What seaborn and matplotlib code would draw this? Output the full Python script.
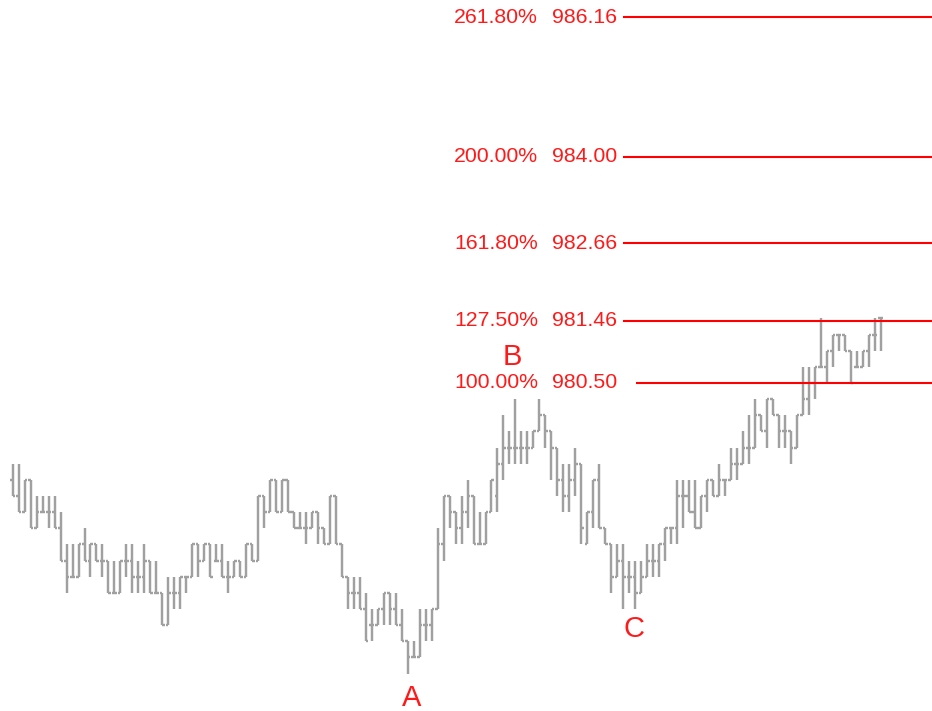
import matplotlib
matplotlib.use("Agg")
import matplotlib.pyplot as plt
import matplotlib.transforms as mtransforms
import pandas as pd
import seaborn as sns

# ---------------- data (ES futures bars, price in points) ----------------
opens = [
    979.00, 978.75, 978.50, 979.00, 978.25, 978.50, 978.50, 978.50, 978.25, 977.75,
    977.50, 977.50, 978.00, 977.75, 978.00, 977.75, 977.75, 977.25, 977.25, 977.75,
    977.75, 977.50, 977.50, 977.75, 977.25, 977.25, 976.75, 977.25, 977.25, 977.50,
    977.50, 978.00, 977.75, 978.00, 977.75, 977.75, 977.50, 977.50, 977.75, 977.50,
    978.00, 977.75, 978.75, 978.50, 979.00, 978.50, 979.00, 978.50, 978.25, 978.25,
    978.25, 978.50, 978.25, 978.00, 978.75, 978.00, 977.50, 977.25, 977.25, 977.00,
    976.75, 976.75, 977.00, 977.25, 977.00, 976.75, 976.50, 976.25, 976.25, 976.75,
    976.75, 977.00, 978.00, 978.75, 978.50, 978.25, 978.50, 978.75, 978.00, 978.00,
    978.50, 978.75, 979.25, 979.50, 979.50, 979.50, 979.50, 979.50, 979.75, 980.00,
    979.75, 979.50, 979.00, 978.75, 979.00, 979.25, 978.00, 978.50, 979.00, 978.25,
    978.00, 977.50, 977.75, 977.50, 977.50, 977.25, 977.50, 977.75, 977.75, 978.00,
    978.25, 978.25, 978.75, 978.75, 978.50, 978.25, 978.75, 979.00, 978.75, 979.00,
    979.00, 979.25, 979.25, 979.50, 979.50, 980.00, 979.75, 980.25, 980.00, 979.75,
    979.75, 979.50, 980.00, 980.25, 980.50, 980.75, 980.75, 981.00, 981.25, 981.25,
    981.00, 980.75, 980.75, 981.00, 981.25, 981.50,
]
highs = [
    979.25, 979.25, 979.00, 979.00, 978.75, 978.75, 978.75, 978.75, 978.50, 978.00,
    978.00, 978.00, 978.25, 978.00, 978.00, 978.00, 977.75, 977.75, 977.75, 978.00,
    978.00, 977.75, 978.00, 977.75, 977.75, 977.25, 977.50, 977.50, 977.50, 977.50,
    978.00, 978.00, 978.00, 978.00, 978.00, 978.00, 977.75, 977.75, 977.75, 978.00,
    978.00, 978.75, 978.75, 979.00, 979.00, 979.00, 979.00, 978.50, 978.50, 978.50,
    978.50, 978.50, 978.25, 978.75, 978.75, 978.00, 977.50, 977.50, 977.50, 977.25,
    977.00, 977.00, 977.25, 977.25, 977.25, 977.00, 976.50, 976.50, 977.00, 977.00,
    977.00, 978.25, 978.75, 978.75, 978.50, 978.75, 979.00, 978.75, 978.50, 978.50,
    979.00, 979.50, 980.00, 979.75, 980.25, 979.75, 979.75, 979.75, 980.25, 980.00,
    979.75, 979.50, 979.25, 979.25, 979.50, 979.25, 978.50, 979.00, 979.25, 978.25,
    978.00, 978.00, 978.00, 977.75, 977.75, 977.75, 978.00, 978.00, 978.00, 978.25,
    978.25, 979.00, 979.00, 979.00, 979.00, 978.75, 979.00, 979.00, 979.25, 979.00,
    979.50, 979.50, 979.75, 980.00, 980.25, 980.00, 980.25, 980.25, 980.00, 980.00,
    979.75, 980.00, 980.75, 980.75, 980.75, 981.50, 981.00, 981.25, 981.25, 981.25,
    981.00, 981.00, 981.00, 981.25, 981.50, 981.50,
]
lows = [
    978.75, 978.50, 978.50, 978.25, 978.25, 978.50, 978.25, 978.25, 977.75, 977.25,
    977.50, 977.50, 977.75, 977.50, 977.75, 977.50, 977.25, 977.25, 977.25, 977.50,
    977.25, 977.25, 977.25, 977.25, 977.25, 976.75, 976.75, 977.00, 977.00, 977.25,
    977.50, 977.50, 977.75, 977.50, 977.75, 977.50, 977.25, 977.50, 977.50, 977.50,
    977.75, 977.75, 978.25, 978.50, 978.50, 978.50, 978.50, 978.25, 978.25, 978.00,
    978.25, 978.00, 978.00, 978.00, 978.00, 977.50, 977.00, 977.00, 977.00, 976.50,
    976.50, 976.75, 976.75, 976.75, 976.75, 976.50, 976.00, 976.25, 976.25, 976.50,
    976.50, 977.00, 977.75, 978.25, 978.00, 978.00, 978.25, 978.00, 978.00, 978.00,
    978.50, 978.50, 979.00, 979.25, 979.25, 979.25, 979.25, 979.50, 979.75, 979.50,
    979.00, 978.75, 978.50, 978.50, 978.75, 978.00, 978.00, 978.25, 978.25, 978.00,
    977.25, 977.50, 977.00, 977.25, 977.00, 977.25, 977.50, 977.50, 977.50, 977.75,
    978.00, 978.00, 978.25, 978.50, 978.25, 978.25, 978.50, 978.75, 978.75, 978.75,
    979.00, 979.00, 979.25, 979.25, 979.50, 979.75, 979.50, 980.00, 979.50, 979.50,
    979.25, 979.50, 980.00, 980.00, 980.25, 980.75, 980.50, 980.75, 981.00, 981.00,
    980.50, 980.75, 980.75, 980.75, 981.00, 981.00,
]
closes = [
    978.75, 978.50, 979.00, 978.25, 978.50, 978.50, 978.50, 978.25, 977.75, 977.50,
    977.50, 978.00, 977.75, 978.00, 977.75, 977.75, 977.25, 977.25, 977.75, 977.75,
    977.50, 977.50, 977.75, 977.25, 977.25, 976.75, 977.25, 977.25, 977.50, 977.50,
    978.00, 977.75, 978.00, 977.50, 977.75, 977.50, 977.50, 977.75, 977.50, 978.00,
    977.75, 978.75, 978.50, 979.00, 978.50, 979.00, 978.50, 978.25, 978.25, 978.25,
    978.50, 978.25, 978.00, 978.75, 978.00, 977.50, 977.25, 977.25, 977.00, 976.50,
    976.75, 977.00, 977.25, 977.00, 976.75, 976.50, 976.25, 976.25, 976.75, 976.75,
    977.00, 978.00, 978.75, 978.50, 978.25, 978.50, 978.75, 978.00, 978.00, 978.50,
    979.00, 979.25, 979.50, 979.50, 979.50, 979.50, 979.50, 979.75, 980.00, 979.75,
    979.50, 979.00, 978.75, 979.00, 979.25, 978.25, 978.50, 979.00, 978.25, 978.00,
    977.50, 977.75, 977.50, 977.50, 977.25, 977.50, 977.75, 977.75, 978.00, 978.25,
    978.25, 978.75, 978.75, 978.50, 978.25, 978.75, 979.00, 978.75, 979.00, 979.00,
    979.25, 979.25, 979.50, 979.50, 980.00, 979.75, 980.25, 980.00, 979.75, 979.75,
    979.50, 980.00, 980.25, 980.50, 980.75, 980.75, 981.00, 981.25, 981.25, 981.00,
    980.50, 980.75, 981.00, 981.25, 981.25, 981.50,
]

fib_pcts = ["261.80%", "200.00%", "161.80%", "127.50%", "100.00%"]
fib_prices = [986.16, 984.00, 982.66, 981.46, 980.50]

wave_labels = ["A", "B", "C"]
wave_bars = [66, 84, 104]          # bar index each label belongs to
wave_at_high = [False, True, False]

# ---------------- style ----------------
sns.set_theme(style="white")
plt.rcParams["font.family"] = ["Liberation Sans", "DejaVu Sans"]

W, H = 932, 711
fig = plt.figure(figsize=(W / 100, H / 100), dpi=100)
ax = fig.add_axes([0, 0, 1, 1])
sns.despine(ax=ax, left=True, bottom=True, top=True, right=True)
ax.set_xticks([])
ax.set_yticks([])
ax.set_facecolor("white")

df = pd.DataFrame({"bar": range(len(opens)), "open": opens, "high": highs,
                   "low": lows, "close": closes})

gray = "#a0a0a0"
lw = 1.75
tick = 0.42
ax.vlines(df["bar"], df["low"], df["high"], color=gray, lw=lw)
ax.hlines(df["open"], df["bar"] - tick, df["bar"], color=gray, lw=lw)
ax.hlines(df["close"], df["bar"], df["bar"] + tick, color=gray, lw=lw)

ax.set_xlim(-2.12, 153.6)
ax.set_ylim(975.42, 986.43)

# ---------------- fibonacci levels ----------------
red = "#ff1a1a"
trans = mtransforms.blended_transform_factory(ax.transAxes, ax.transData)
for pct, price in zip(fib_pcts, fib_prices):
    start = 636 / W if pct == "100.00%" else 623 / W
    ax.plot([start, 1.0], [price, price], transform=trans, color="#ff0000", lw=1.5,
            solid_capstyle="butt")
    ax.text(538 / W, price, pct, transform=trans, ha="right", va="center",
            color=red, fontsize=15.3)
    ax.text(617 / W, price, f"{price:.2f}", transform=trans, ha="right", va="center",
            color=red, fontsize=15.3)

# ---------------- wave labels ----------------
offsets = {"A": (4, -24), "B": (-3, 42), "C": (-1, -20)}
for lab, b, at_high in zip(wave_labels, wave_bars, wave_at_high):
    y = highs[b] if at_high else lows[b]
    dx, dy = offsets[lab]
    ax.annotate(lab, xy=(b, y), xytext=(dx, dy), textcoords="offset pixels",
                ha="center", va="center", color=red, fontsize=21)

fig.savefig("out.png", dpi=100, facecolor="white")
